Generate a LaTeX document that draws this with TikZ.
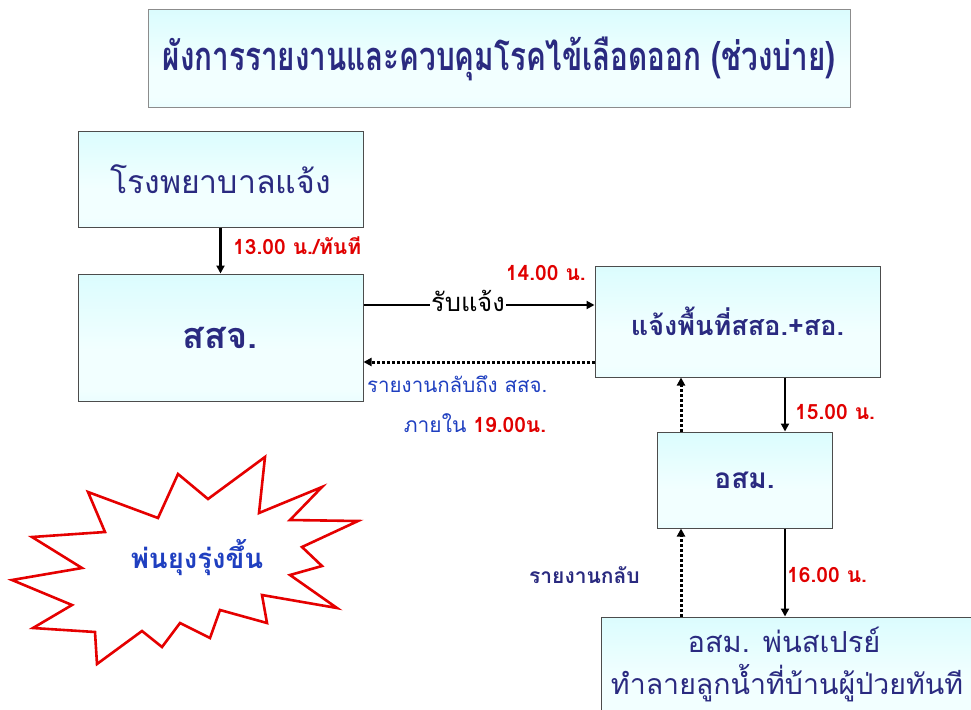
\documentclass[tikz,border=0pt]{standalone}
\usepackage{fontspec}
\newfontfamily\thai[Script=Thai]{Loma}
\usetikzlibrary{arrows.meta}
\definecolor{navy}{HTML}{2A2A80}
\definecolor{lblue}{HTML}{1F3FC0}
\definecolor{lred}{HTML}{E00000}
\definecolor{cy}{HTML}{C8FAFC}
\definecolor{cyl}{HTML}{F2FFFF}
\pgfdeclareverticalshading{boxshade}{100bp}{color(0bp)=(cy); color(30bp)=(cyl); color(45bp)=(cyl); color(100bp)=(cy)}
\tikzset{
  box/.style={draw=black!70, line width=1pt, shading=boxshade, font=\thai\color{navy}, align=center, inner sep=0pt},
  arr/.style={line width=2.4pt, -{Triangle[length=8pt,width=8pt]}},
  dot/.style={line width=3pt, dash pattern=on 2.6pt off 2.4pt, -{Triangle[length=8pt,width=8pt]}},
  red/.style={font=\thai\bfseries\fontsize{21}{24}\selectfont, text=lred, inner sep=0pt},
}
\begin{document}
\begin{tikzpicture}[x=1pt,y=-1pt]
\useasboundingbox (0,0) rectangle (971,709);
\clip (0,0) rectangle (971,709);
\node[box, draw=black!45, minimum width=702pt, minimum height=97pt] (title) at (499,58.5)
  {\scalebox{0.78}[1.05]{\bfseries\fontsize{38}{44}\selectfont ผังการรายงานและควบคุมโรคไข้เลือดออก (ช่วงบ่าย)}};
\node[box, minimum width=285pt, minimum height=96pt] (hosp) at (220.5,179)
  {\fontsize{32}{38}\selectfont โรงพยาบาลแจ้ง};
\node[box, minimum width=285pt, minimum height=127pt] (ssj) at (220.5,337.5)
  {\bfseries\fontsize{36}{42}\selectfont สสจ.};
\node[box, minimum width=285pt, minimum height=111pt] (notify) at (737.5,321.5)
  {\bfseries\fontsize{27}{32}\selectfont แจ้งพื้นที่สสอ.+สอ.};
\node[box, minimum width=175pt, minimum height=96pt] (osm) at (744.5,480)
  {\bfseries\fontsize{28}{34}\selectfont อสม.};
\node[box, minimum width=384pt, minimum height=103pt] (spray) at (793,668.5)
  {};
\node[font=\thai\fontsize{29}{32}\selectfont, text=navy] (spray1) at (784,640) {อสม. พ่นสเปรย์};
\node[font=\thai\fontsize{28.5}{32}\selectfont, text=navy] (spray2) at (787,683) {ทำลายลูกน้ำที่บ้านผู้ป่วยทันที};

\coordinate (yh) at (0,305);
\coordinate (yd) at (0,362);
\coordinate (xa) at (785,0);
\coordinate (xb) at (681,0);

\draw[arr] (hosp.south) -- (ssj.north);
\draw[arr] (ssj.east |- yh) -- (notify.west |- yh);
\node[fill=white, inner xsep=1pt, inner ysep=0pt, font=\thai\fontsize{25.5}{28}\selectfont] (rcv) at (468,301) {รับแจ้ง};
\draw[dot] (notify.west |- yd) -- (ssj.east |- yd);
\draw[arr] (notify.south -| xa) -- (osm.north -| xa);
\draw[dot] (osm.north -| xb) -- (notify.south -| xb);
\draw[arr] (osm.south -| xa) -- (spray.north -| xa);
\draw[dot] (spray.north -| xb) -- (osm.south -| xb);

\node[red, anchor=west] (l13) at (233,246) {13.00 น./ทันที};
\node[red, anchor=east] (l14) at (586,273) {14.00 น.};
\node[red, anchor=west] (l15) at (795,412) {15.00 น.};
\node[red, anchor=west] (l16) at (787,575) {16.00 น.};
\node[anchor=west, font=\thai\fontsize{20.5}{24}\selectfont, text=lblue, inner sep=0pt] (back1) at (367,384) {รายงานกลับถึง สสจ.};
\node[font=\thai\fontsize{21}{24}\selectfont, inner sep=0pt] (back2) at (475,423) {\textcolor{lblue}{ภายใน} \textcolor{lred}{\bfseries 19.00น.}};
\node[anchor=east, font=\thai\bfseries\fontsize{21}{24}\selectfont, text=navy, inner sep=0pt] (back3) at (640,575) {รายงานกลับ};

\draw[draw=red!90!black, line width=2.6pt, line join=miter, fill=white]
  (88,492) -- (158,518) -- (178,474) -- (208,499) -- (265,457) -- (259,513) -- (322,487) -- (290,520) -- (358,521) -- (302,547) -- (322,566) -- (290,575) -- (337,608) -- (262,595) -- (267,623) -- (220,610) -- (210,638) -- (180,623) -- (162,647) -- (142,631) -- (97,664) -- (95,632) -- (33,628) -- (72,605) -- (12,580) -- (82,568) -- (32,537) -- (105,532) -- cycle;
\node[font=\thai\bfseries\fontsize{27.5}{30}\selectfont, text=lblue] (burst) at (197,558) {พ่นยุงรุ่งขึ้น};
\end{tikzpicture}
\end{document}
